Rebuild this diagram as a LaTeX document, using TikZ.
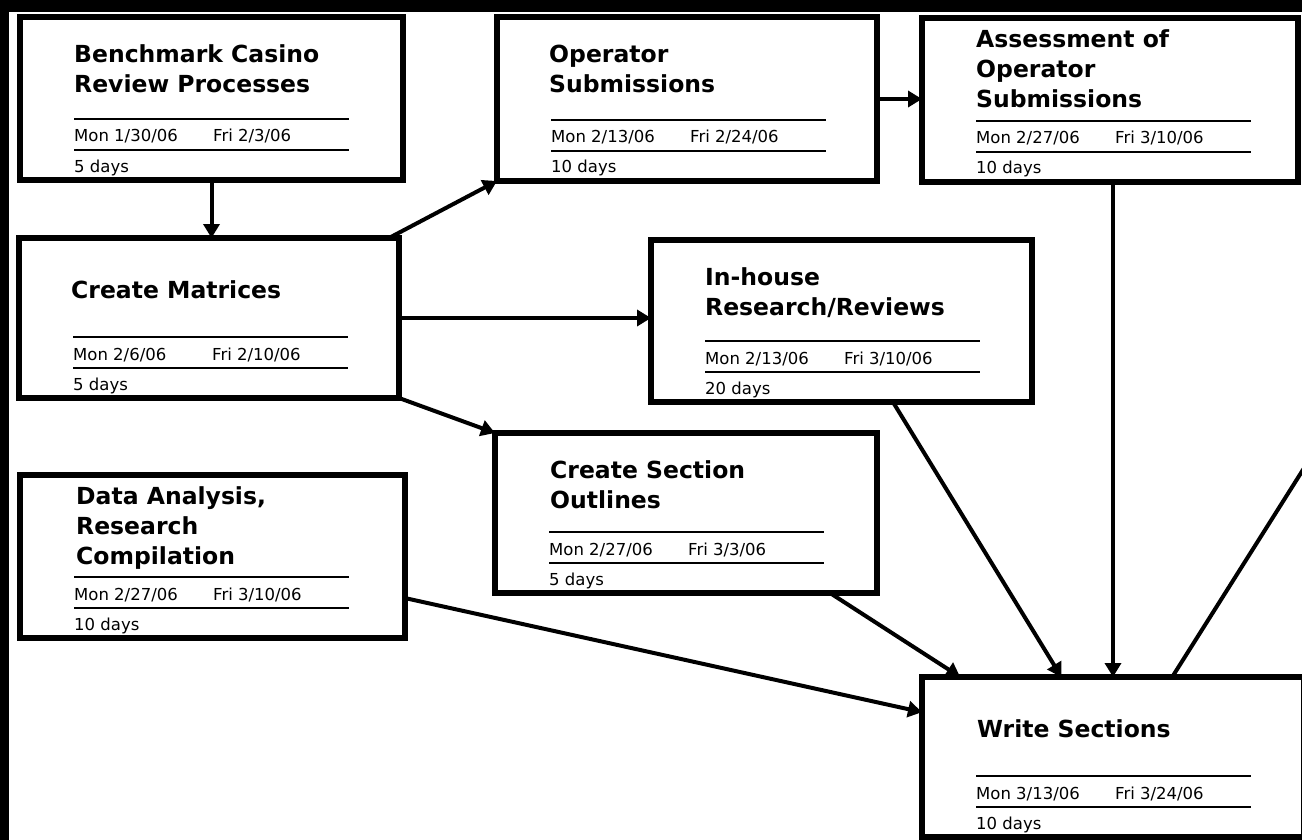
\documentclass[tikz,border=0pt]{standalone}
\usepackage{fontspec}
\setmainfont{DejaVu Sans}
\usetikzlibrary{arrows.meta,calc}

% \tasknode{name}{x1}{y1}{x2}{y2}{start}{finish}{duration}
\newcommand\tasknode[8]{%
  \node[box, minimum width={#4-#2}, minimum height={#5-#3}] (#1) at (#2,#3) {};
  \draw[rl] ({#2+54},{#5-61}) -- ({#2+329},{#5-61});
  \draw[rl] ({#2+54},{#5-30}) -- ({#2+329},{#5-30});
  \node[dt] (#1-s) at ({#2+54},{#5-38}) {#6};
  \node[dt] (#1-f) at ({#2+193},{#5-38}) {#7};
  \node[dt] (#1-d) at ({#2+54},{#5-8}) {#8};
}

\begin{document}
\begin{tikzpicture}[x=1pt,y=-1pt,
  box/.style={draw=black, line width=6pt, fill=white, inner sep=0pt, outer sep=0pt, anchor=north west, rectangle},
  conn/.style={line width=4pt, -{Triangle[length=14pt,width=16pt]}},
  ttl/.style={anchor=base west, inner sep=0pt, font=\bfseries\fontsize{23.5}{30}\selectfont, align=left},
  dt/.style={anchor=base west, inner sep=0pt, font=\fontsize{16.5}{18}\selectfont},
  rl/.style={line width=2pt}
]
\useasboundingbox (0,0) rectangle (1302,840);
\clip (0,0) rectangle (1302,840);
\fill[black] (0,0) rectangle (1302,840);
\fill[white] (9,12) rectangle (1302,840);

\tasknode{bench}{20}{17}{403}{180}{Mon 1/30/06}{Fri 2/3/06}{5 days}
\node[ttl] (bench-t) at (74,93) {Benchmark Casino\\Review Processes};

\tasknode{matr}{19}{238}{399}{398}{Mon 2/6/06}{Fri 2/10/06}{5 days}
\node[ttl] (matr-t) at (71,298) {Create Matrices};

\tasknode{oper}{497}{17}{877}{181}{Mon 2/13/06}{Fri 2/24/06}{10 days}
\node[ttl] (oper-t) at (549,93) {Operator\\Submissions};

\tasknode{assess}{922}{18}{1298}{182}{Mon 2/27/06}{Fri 3/10/06}{10 days}
\node[ttl] (assess-t) at (976,108) {Assessment of\\Operator\\Submissions};

\tasknode{inhouse}{651}{240}{1032}{402}{Mon 2/13/06}{Fri 3/10/06}{20 days}
\node[ttl] (inhouse-t) at (705,315) {In-house\\Research/Reviews};

\tasknode{outline}{495}{433}{877}{593}{Mon 2/27/06}{Fri 3/3/06}{5 days}
\node[ttl] (outline-t) at (550,508) {Create Section\\Outlines};

\tasknode{data}{20}{475}{405}{638}{Mon 2/27/06}{Fri 3/10/06}{10 days}
\node[ttl] (data-t) at (76,564) {Data Analysis,\\Research\\Compilation};

\tasknode{write}{922}{677}{1304}{837}{Mon 3/13/06}{Fri 3/24/06}{10 days}
\node[ttl] (write-t) at (977,737) {Write Sections};

% connectors
\draw[conn] (bench.south) -- (bench.south |- matr.north);
\draw[conn] ([xshift=-10pt]matr.north east) -- (oper.south west);
\draw[conn] (matr.east) -- (matr.east -| inhouse.west);
\draw[conn] (matr.south east) -- (outline.north west);
\draw[conn] (oper.east) -- (oper.east -| assess.west);
\draw[conn] ([xshift=3pt]assess.south) -- ([xshift=3pt]assess.south |- write.north);
\draw[conn] ($(inhouse.south west)!0.635!(inhouse.south east)$) -- ($(write.north west)!0.365!(write.north east)$);
\draw[conn] ($(outline.south west)!0.877!(outline.south east)$) -- ($(write.north west)!0.10!(write.north east)$);
\draw[conn] ($(data.north east)!0.755!(data.south east)$) -- ($(write.north west)!0.22!(write.south west)$);
\coordinate (offR) at (1306,465);
\draw[line width=4pt] ($(write.north west)!0.655!(write.north east)$) -- (offR);
\end{tikzpicture}
\end{document}
